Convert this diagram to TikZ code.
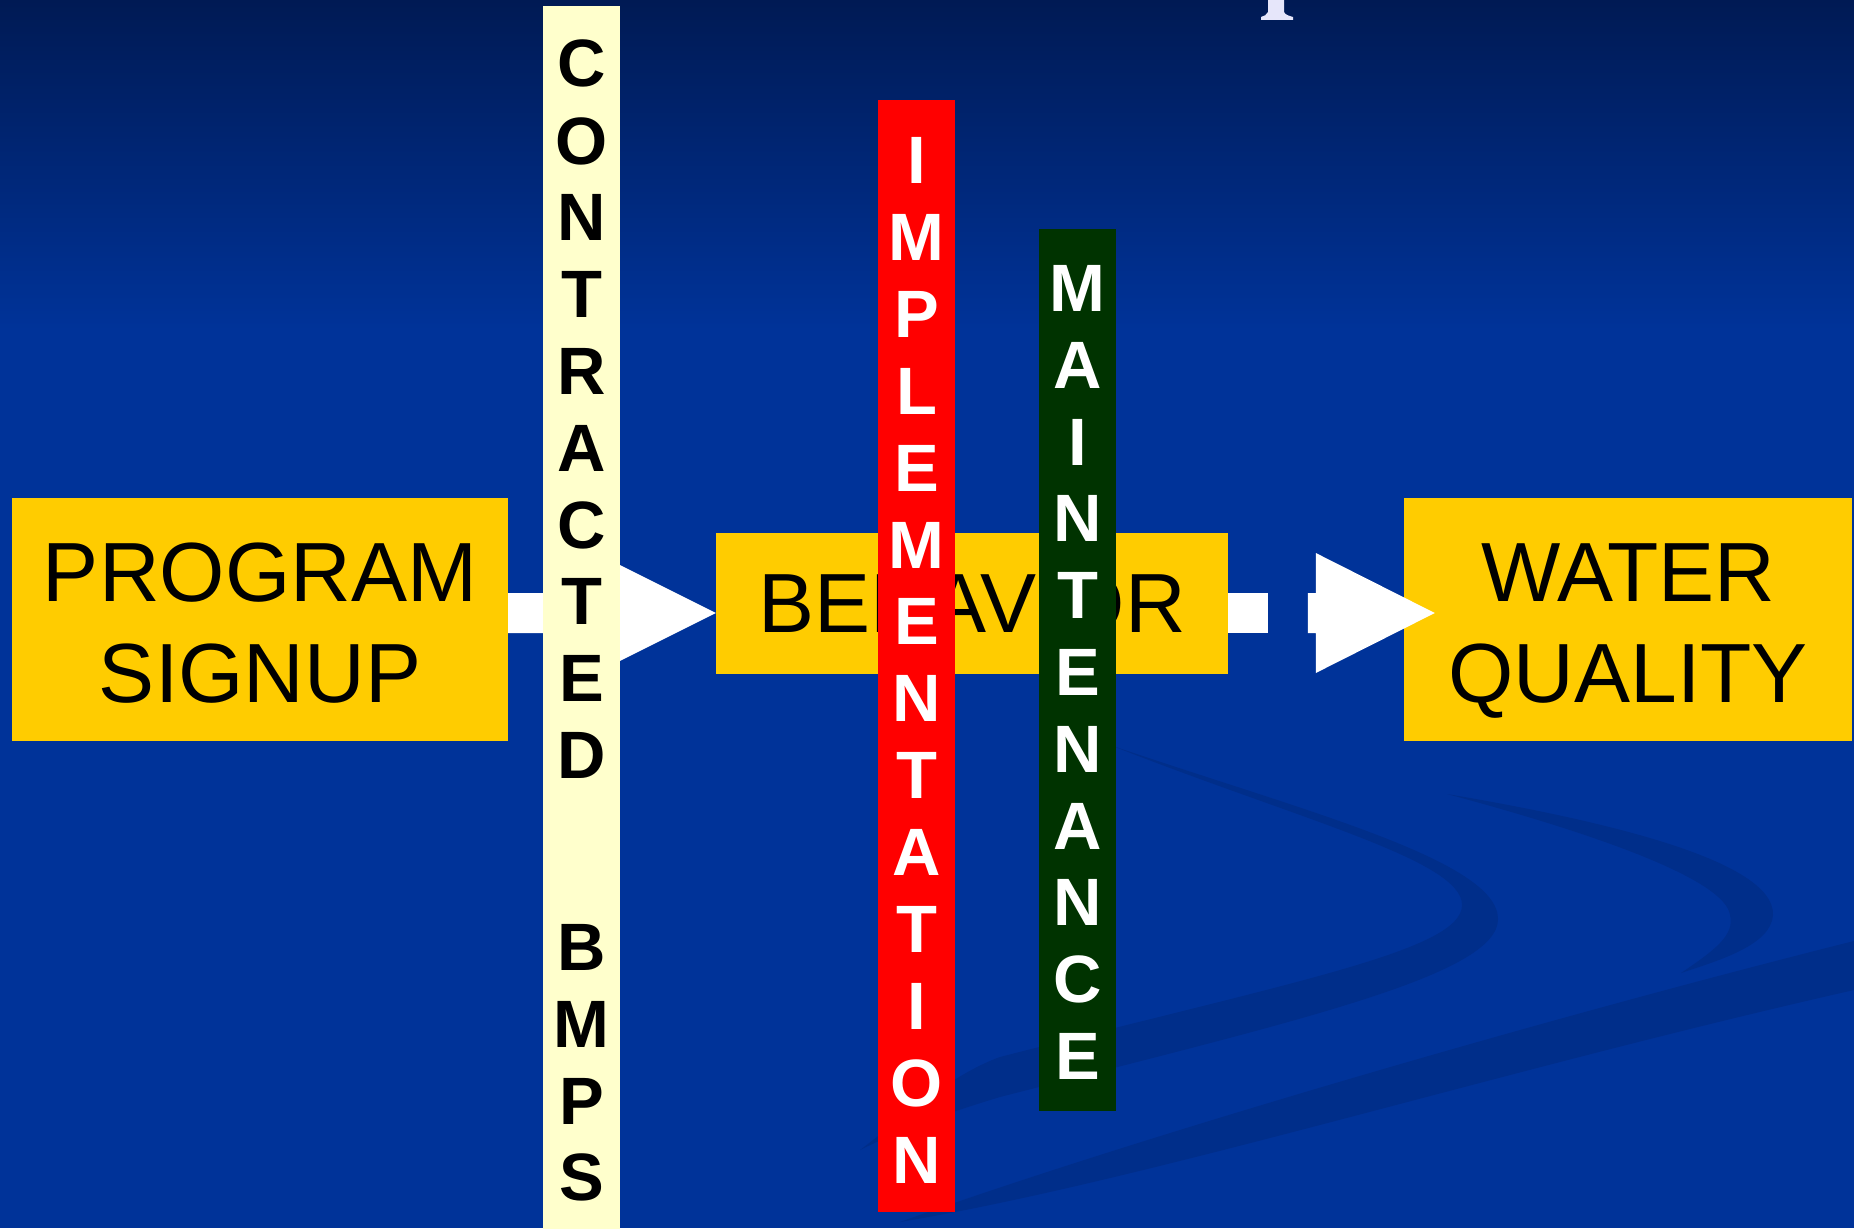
\documentclass[tikz,border=0pt]{standalone}
\usepackage{fontspec}
\setmainfont{Liberation Sans}
\usetikzlibrary{calc}
\definecolor{bgblue}{RGB}{0,51,153}
\definecolor{bgtop}{RGB}{0,26,84}
\definecolor{swoosh}{RGB}{0,46,138}
\definecolor{boxyellow}{RGB}{255,204,0}
\definecolor{cream}{RGB}{255,255,204}
\definecolor{barred}{RGB}{255,0,0}
\definecolor{bargreen}{RGB}{0,51,0}
\definecolor{glyph}{RGB}{230,230,250}
\tikzset{
  ybox/.style={fill=boxyellow, inner sep=0pt, align=center, text=black,
    font=\fontsize{84}{101}\selectfont},
  twoline/.style={text height=165pt, text depth=0pt},
  vbar/.style={inner sep=0pt, minimum width=77pt},
  vletter/.style={inner sep=0pt, text height=48pt, text depth=0pt,
    font=\fontsize{67}{70}\selectfont\bfseries},
  arrowfill/.style={fill=white},
  swooshfill/.style={fill=swoosh},
}
\begin{document}
\begin{tikzpicture}[x=1pt,y=-1pt]
\useasboundingbox (0,0) rectangle (1854,1228);
% background
\fill[bgblue] (0,0) rectangle (1854,1228);
\shade[top color=bgtop, bottom color=bgblue] (0,0) rectangle (1854,330);
% swooshes
\fill[swooshfill] (1110,745) .. controls (1300,810) and (1498,860) .. (1498,919)
  .. controls (1498,975) and (1300,1020) .. (1000,1097)
  .. controls (950,1112) and (900,1130) .. (860,1150)
  .. controls (900,1120) and (950,1075) .. (1000,1057)
  .. controls (1300,980) and (1462,950) .. (1462,905)
  .. controls (1462,860) and (1300,820) .. (1110,745) -- cycle;
\fill[swooshfill] (1447,794) .. controls (1600,820) and (1775,860) .. (1773,915)
  .. controls (1771,945) and (1720,960) .. (1681,973)
  .. controls (1715,950) and (1735,935) .. (1730,915)
  .. controls (1725,880) and (1600,835) .. (1447,794) -- cycle;
\fill[swooshfill] (900,1222) .. controls (1100,1150) and (1500,1030) .. (1854,941)
  -- (1854,990) .. controls (1500,1070) and (1150,1180) .. (900,1222) -- cycle;
% cut-off title glyph
\fill[glyph] (1268,0) -- (1284,0) -- (1284,12) .. controls (1285,15) and (1290,16) .. (1293,17)
  -- (1293,20) -- (1261,20) -- (1261,17) .. controls (1264,16) and (1267,15) .. (1268,12) -- cycle;
% boxes
\node[ybox, twoline, minimum width=496pt, minimum height=243pt] (prog) at (260,619.5) {PROGRAM\\SIGNUP};
\node[ybox, minimum width=512pt, minimum height=141pt] (beh) at (972,603.5) {BEHAVIOR};
\node[ybox, twoline, minimum width=448pt, minimum height=243pt] (wq) at (1628,619.5) {WATER\\QUALITY};
\coordinate (aline) at (0,613);
% arrow 1
\coordinate (a1from) at (prog.east |- aline);
\coordinate (a1to) at (beh.west |- aline);
\fill[arrowfill] ($(a1from)+(0,-20)$) -- ($(a1to)+(-96,-20)$) -- ($(a1to)+(-96,-48)$)
  -- (a1to) -- ($(a1to)+(-96,48)$) -- ($(a1to)+(-96,20)$) -- ($(a1from)+(0,20)$) -- cycle;
% arrow 2
\coordinate (a2from) at (beh.east |- aline);
\coordinate (a2to) at ($(wq.west |- aline)+(31,0)$);
\fill[arrowfill] ($(a2from)+(0,-20)$) rectangle ($(a2from)+(40,20)$);
\fill[arrowfill] ($(a2to)+(-127,-20)$) -- ($(a2to)+(-119,-20)$) -- ($(a2to)+(-119,-60)$)
  -- (a2to) -- ($(a2to)+(-119,60)$) -- ($(a2to)+(-119,20)$) -- ($(a2to)+(-127,20)$) -- cycle;
% vertical bars
\node[vbar, fill=cream, minimum height=1224pt] (cbar) at (581.5,618) {};
\node[vbar, fill=barred, minimum height=1112pt] (rbar) at (916.5,656) {};
\node[vbar, fill=bargreen, minimum height=882pt] (gbar) at (1077.5,670) {};
\foreach \l/\y [count=\i] in {C/63,O/140,N/216,T/293,R/370,A/447,C/524,T/600,E/677,D/754,B/946,M/1023,P/1100,S/1176}
  \node[vletter, text=black] (cl\i) at (581.5,\y) {\l};
\foreach \l/\y [count=\i] in {I/159,M/236,P/313,L/390,E/467,M/544,E/620,N/697,T/774,A/851,T/928,I/1005,O/1082,N/1159}
  \node[vletter, text=white] (rl\i) at (916.5,\y) {\l};
\foreach \l/\y [count=\i] in {M/287,A/364,I/441,N/517,T/594,E/671,N/748,A/825,N/901,C/978,E/1055}
  \node[vletter, text=white] (gl\i) at (1077.5,\y) {\l};
\end{tikzpicture}
\end{document}
